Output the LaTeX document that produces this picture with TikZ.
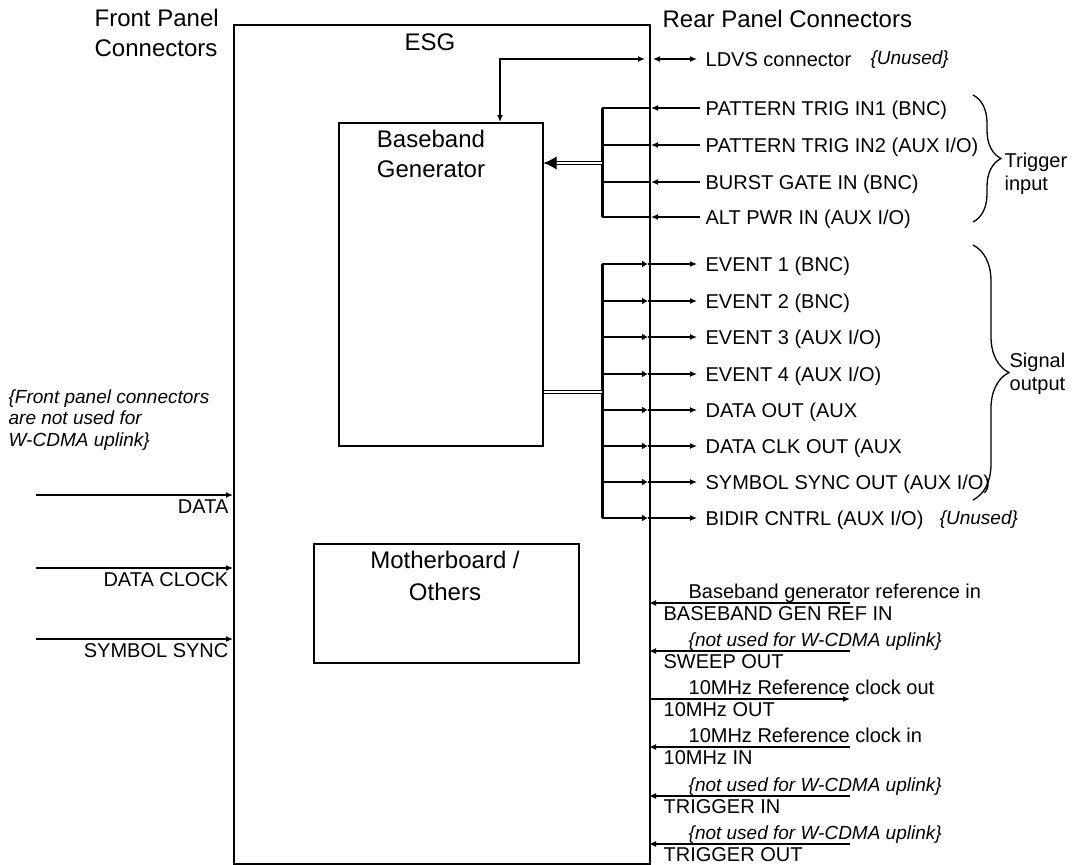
\documentclass[tikz,border=0pt]{standalone}
\usepackage{fontspec}
\setmainfont{Liberation Sans}
\usetikzlibrary{arrows.meta,positioning,decorations.pathreplacing}

\newcommand{\notused}{{\fontsize{19}{22}\selectfont\itshape\{not used for W-CDMA uplink\}}}

\tikzset{
  big/.style={font=\fontsize{24}{30}\selectfont, inner sep=0pt},
  small/.style={font=\fontsize{20}{23}\selectfont, inner sep=0pt, anchor=base west},
  note/.style={font=\fontsize{19}{21.5}\selectfont\itshape, inner sep=0pt},
  unit/.style={draw, line width=1.5pt, inner sep=0pt, anchor=north west},
  tip/.style={-{Latex[length=7pt,width=6pt]}},
  both/.style={{Latex[length=7pt,width=6pt]}-{Latex[length=7pt,width=6pt]}},
  inarr/.style={{Latex[length=7pt,width=6pt]}-},
  outarr/.style={-{Latex[length=7pt,width=6pt]}},
  edgetip/.style={-{Latex[length=6pt,width=7pt]}},
  bus/.style={line width=3pt},
}

\begin{document}
\begin{tikzpicture}[x=1pt,y=-1pt,line width=1.3pt]
  \useasboundingbox (0,0) rectangle (1072,865);

  % boxes
  \node[unit, minimum width=416pt, minimum height=839pt] (esg) at (233,24) {};
  \node[unit, minimum width=204pt, minimum height=323pt] (bbg) at (338,122) {};
  \node[unit, minimum width=265pt, minimum height=119pt] (mob) at (313,543) {};

  \node[big, anchor=base] (esgtxt) at (430,50) {ESG};
  \node[big, anchor=base] (bbgtxt1) at (431,147) {Baseband};
  \node[big, anchor=base] (bbgtxt2) at (431,177) {Generator};
  \node[big, anchor=base] (mobtxt1) at (445,568) {Motherboard /};
  \node[big, anchor=base] (mobtxt2) at (445,600) {Others};

  \node[big, anchor=base west] (fronthd1) at (94,26) {Front Panel};
  \node[big, anchor=base west] (fronthd2) at (94,56) {Connectors};
  \node[big, anchor=base west] (rearhd) at (662,27) {Rear Panel Connectors};

  % LDVS
  \coordinate (ldvsK) at (500,59);
  \coordinate (ldvsI) at (645,59);
  \coordinate (ldvsO) at (653,59);
  \coordinate (ldvsR) at (697,59);
  \draw[both] (bbg.north -| ldvsK) |- (ldvsI);
  \draw[both] (ldvsO) -- (ldvsR);
  \node[small] (ldvs) at (705,66) {LDVS connector};
  \node[note, right=18pt of ldvs] (ldvsnote) {\{Unused\}};

  % trigger inputs
  \foreach \y/\txt [count=\i] in {108/PATTERN TRIG IN1 (BNC), 145/{PATTERN TRIG IN2 (AUX I/O)},
      182/BURST GATE IN (BNC), 217/{ALT PWR IN (AUX I/O)}} {
    \coordinate (trgB\i) at (602,\y);
    \coordinate (trgE\i) at (651,\y);
    \coordinate (trgR\i) at (700,\y);
    \draw[tip] (trgR\i) -- (trgE\i);
    \draw (trgE\i) -- (trgB\i);
    \node[small] (trg\i) at (705,\y+7) {\txt};
  }
  \draw[bus] (trgB1) -- (trgB4);
  \coordinate (trgM) at (602,163);
  \draw[double, double distance=2.5pt, line width=1pt, -{Latex[length=13pt,width=13pt]}] (trgM) -- (bbg.east |- trgM);

  % signal outputs
  \foreach \y/\txt [count=\i] in {264/EVENT 1 (BNC), 301/EVENT 2 (BNC), 337/{EVENT 3 (AUX I/O)},
      374/{EVENT 4 (AUX I/O)}, 410/DATA OUT (AUX, 446/DATA CLK OUT (AUX,
      482/{SYMBOL SYNC OUT (AUX I/O)}, 518/{BIDIR CNTRL (AUX I/O)}} {
    \coordinate (sigB\i) at (602,\y);
    \coordinate (sigE\i) at (648,\y);
    \coordinate (sigR\i) at (697,\y);
    \draw[edgetip] (sigB\i) -- (sigE\i);
    \draw[tip] (sigE\i) -- (sigR\i);
    \node[small] (sig\i) at (705,\y+7) {\txt};
  }
  \draw[bus] (sigB1) -- (sigB8);
  \coordinate (sigM) at (602,392);
  \draw[double, double distance=2.5pt, line width=1pt] (bbg.east |- sigM) -- (sigM);
  \node[note, right=15pt of sig8] (bidirnote) {\{Unused\}};

  % braces
  \coordinate (trgTop) at (973,95);
  \coordinate (trgBot) at (973,222);
  \draw[decorate, decoration={brace, amplitude=28pt}] (trgTop) -- (trgBot);
  \node[small] (trglbl1) at (1004,167) {Trigger};
  \node[small] (trglbl2) at (1004,190) {input};
  \coordinate (sigTop) at (973,245);
  \coordinate (sigBot) at (973,500);
  \draw[decorate, decoration={brace, amplitude=36pt}] (sigTop) -- (sigBot);
  \node[small] (siglbl1) at (1009,367) {Signal};
  \node[small] (siglbl2) at (1009,390) {output};

  % rear reference connectors
  \foreach \y/\top/\bot/\dir [count=\i] in {603/Baseband generator reference in/BASEBAND GEN REF IN/inarr,
      651/\notused/SWEEP OUT/inarr, 699/10MHz Reference clock out/10MHz OUT/outarr,
      747/10MHz Reference clock in/10MHz IN/inarr, 796/\notused/TRIGGER IN/inarr,
      844/\notused/TRIGGER OUT/inarr} {
    \coordinate (refE\i) at (649,\y);
    \coordinate (refR\i) at (850,\y);
    \draw[\dir] (refE\i) -- (refR\i);
    \node[small] (refa\i) at (688,\y-5) {\top};
    \node[small] (refb\i) at (663,\y+17) {\bot};
  }

  % front panel
  \node[note, align=left, anchor=north west] (frontnote) at (8,389)
    {\{Front panel connectors\\are not used for\\W-CDMA uplink\}};
  \foreach \y/\txt [count=\i] in {495/DATA, 568/DATA CLOCK, 639/SYMBOL SYNC} {
    \coordinate (fpL\i) at (36,\y);
    \coordinate (fpE\i) at (233,\y);
    \draw[tip] (fpL\i) -- (fpE\i);
    \node[small, anchor=base east] (fp\i) at (229,\y+18) {\txt};
  }
\end{tikzpicture}
\end{document}
